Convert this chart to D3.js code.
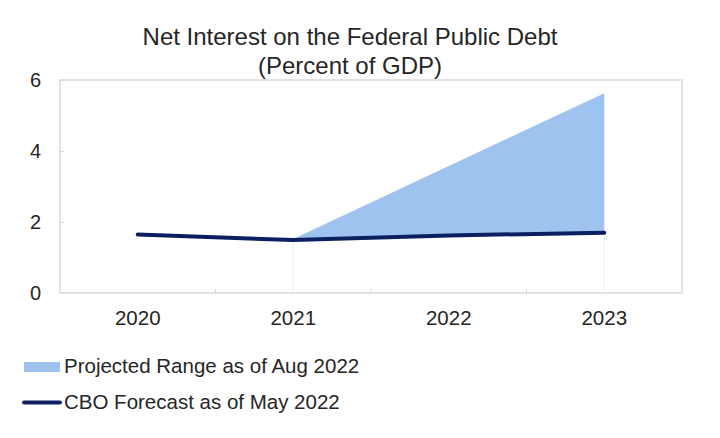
<!DOCTYPE html>
<html><head><meta charset="utf-8">
<script src="https://cdn.jsdelivr.net/npm/d3@7"></script>
<style>body{margin:0;background:#fff;} text{font-family:"Liberation Sans",Arial,sans-serif;fill:#262626;}</style>
</head><body>
<svg id="c" width="720" height="438"></svg>
<script>
const years = ["2020","2021","2022","2023"];
const cboForecast = [1.65, 1.49, 1.62, 1.70];
const rangeYears = ["2021","2022","2023"];
const rangeLow = [1.49, 1.62, 1.70];
const rangeHigh = [1.52, 3.58, 5.63];
const yTicks = [0, 2, 4, 6];
const titleLines = ["Net Interest on the Federal Public Debt", "(Percent of GDP)"];
const legendLabels = ["Projected Range as of Aug 2022", "CBO Forecast as of May 2022"];

const svg = d3.select("#c");
const m = {l:60, r:38, t:80, b:145};
const W = 720, H = 438;
const x = d3.scaleBand().domain(years).range([m.l, W-m.r]);
const y = d3.scaleLinear().domain([0,6]).range([H-m.b, m.t]);
const cx = d => x(d) + x.bandwidth()/2;

// plot frame
svg.append("rect").attr("x", m.l).attr("y", m.t).attr("width", W-m.r-m.l).attr("height", H-m.b-m.t)
  .attr("fill","none").attr("stroke","#d9d9d9").attr("stroke-width",1.5);

// area
const rd = rangeYears.map((yr,i)=>({yr, lo:rangeLow[i], hi:rangeHigh[i]}));
svg.append("path").datum(rd)
  .attr("d", d3.area().x(d=>cx(d.yr)).y0(d=>y(d.lo)).y1(d=>y(d.hi)))
  .attr("fill","#9dc3ee");
// faint drop lines
[rangeYears[0], rangeYears[rangeYears.length-1]].forEach(yr=>{
  svg.append("line").attr("x1",cx(yr)).attr("x2",cx(yr)).attr("y1",y(0)).attr("y2",y(rangeLow[rangeYears.indexOf(yr)]))
    .attr("stroke","#e3eef9").attr("stroke-width",1);
});

// line
svg.append("path").datum(years.map((yr,i)=>({yr, v:cboForecast[i]})))
  .attr("d", d3.line().x(d=>cx(d.yr)).y(d=>y(d.v)))
  .attr("fill","none").attr("stroke","#0c2061").attr("stroke-width",4).attr("stroke-linecap","round");

// y axis
const ya = svg.append("g").attr("transform",`translate(${m.l},0)`)
  .call(d3.axisLeft(y).tickValues(yTicks).tickSize(-4).tickPadding(19).tickFormat(d3.format("d")));
ya.select(".domain").remove();
ya.selectAll("line").attr("stroke","#d9d9d9");
ya.selectAll("text").style("font-size","20px").attr("fill","#262626");

// x axis
const xa = svg.append("g").attr("transform",`translate(0,${y(0)})`)
  .call(d3.axisBottom(x).tickSize(0).tickPadding(17));
xa.select(".domain").remove();
xa.selectAll("text").style("font-size","20.5px").attr("fill","#262626");
// boundary ticks
svg.append("g").selectAll("line").data(years.slice(1)).join("line")
  .attr("x1",d=>x(d)).attr("x2",d=>x(d)).attr("y1",y(0)).attr("y2",y(0)-4)
  .attr("stroke","#d9d9d9");

// title
svg.append("g").selectAll("text").data(titleLines).join("text")
  .attr("x",350).attr("y",(d,i)=>45+i*29).attr("text-anchor","middle")
  .style("font-size","24px").text(d=>d);

// legend
const lg = svg.append("g");
lg.append("rect").attr("x",24).attr("y",362).attr("width",36).attr("height",10).attr("fill","#9dc3ee");
lg.append("line").attr("x1",24).attr("x2",60).attr("y1",402.5).attr("y2",402.5).attr("stroke","#0c2061").attr("stroke-width",4).attr("stroke-linecap","round");
lg.selectAll("text").data(legendLabels).join("text")
  .attr("x",64).attr("y",(d,i)=>373+i*36).style("font-size","20.5px").text(d=>d);
</script>
</body></html>
